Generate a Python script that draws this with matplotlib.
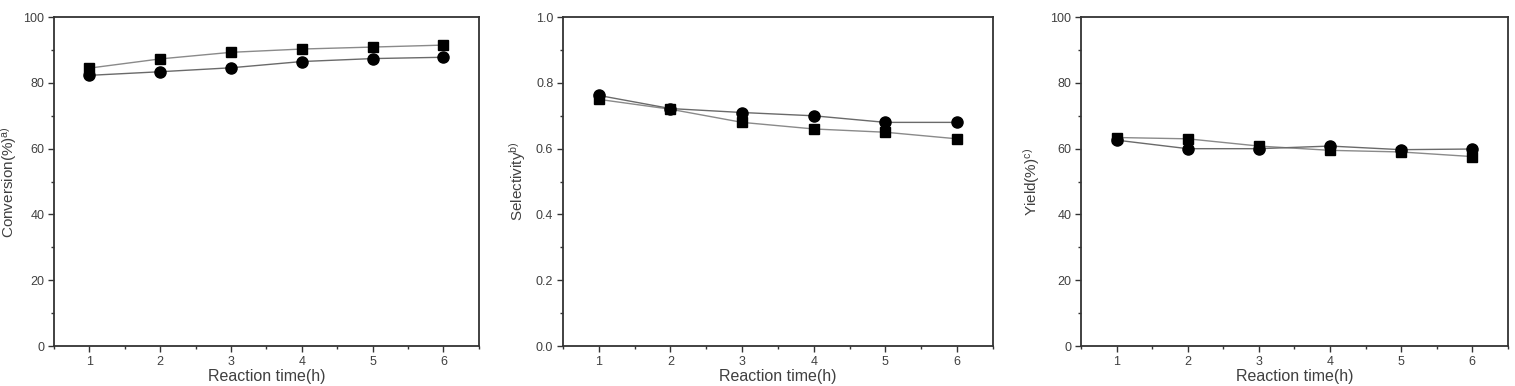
import matplotlib
matplotlib.use("Agg")
import matplotlib.pyplot as plt
from matplotlib.ticker import MultipleLocator, FormatStrFormatter

plt.rcParams["font.family"] = ["Liberation Sans", "DejaVu Sans"]
plt.rcParams["mathtext.fontset"] = "custom"
plt.rcParams["mathtext.rm"] = "Liberation Sans"
plt.rcParams["mathtext.it"] = "Liberation Sans"

# ----------------------
# DATA
# ----------------------

time_h = [1, 2, 3, 4, 5, 6]

conv_square = [84.5, 87.3, 89.3, 90.3, 90.9, 91.5]
conv_circle = [82.3, 83.4, 84.6, 86.5, 87.4, 87.8]

sel_square = [0.75, 0.72, 0.68, 0.66, 0.65, 0.63]
sel_circle = [0.762, 0.722, 0.71, 0.70, 0.68, 0.68]

yield_square = [63.4, 63.0, 60.8, 59.5, 59.0, 57.6]
yield_circle = [62.6, 60.0, 60.0, 60.8, 59.7, 59.9]

ylabels = ["Conversion(%)$^{\\mathrm{a)}}$", "Selectivity$^{\\mathrm{b)}}$", "Yield(%)$^{\\mathrm{c)}}$"]

TEXT = "#404040"
LINE = "#8a8a8a"

fig = plt.figure(figsize=(15.15, 3.86), dpi=100)

boxes = [
    [0.0356, 0.1036, 0.2805, 0.852],
    [0.3716, 0.1036, 0.2838, 0.852],
    [0.7135, 0.1036, 0.2818, 0.852],
]

panels = [
    (conv_square, conv_circle, (0, 100), 20, 10, "%d"),
    (sel_square, sel_circle, (0, 1.0), 0.2, 0.1, "%.1f"),
    (yield_square, yield_circle, (0, 100), 20, 10, "%d"),
]

for i, (box, (sq, ci, ylim, major, minor, fmt), ylab) in enumerate(zip(boxes, panels, ylabels)):
    ax = fig.add_axes(box)

    ax.plot(time_h, sq, color=LINE, lw=1.0, marker="s", ms=7,
            mfc="black", mec="black", zorder=3)
    ax.plot(time_h, ci, color="#6a6a6a", lw=1.0, marker="o", ms=8,
            mfc="black", mec="black", zorder=3)

    ax.set_xlim(0.5, 6.5)
    ax.set_ylim(*ylim)
    ax.xaxis.set_major_locator(MultipleLocator(1))
    ax.xaxis.set_minor_locator(MultipleLocator(0.5))
    ax.yaxis.set_major_locator(MultipleLocator(major))
    ax.yaxis.set_minor_locator(MultipleLocator(minor))
    ax.yaxis.set_major_formatter(FormatStrFormatter(fmt))

    ax.tick_params(which="both", direction="out", color="#333333",
                   top=False, right=False)
    ax.tick_params(which="major", length=4, width=1.0, labelsize=9,
                   labelcolor=TEXT, pad=3)
    ax.tick_params(which="minor", length=2.5, width=1.0)

    for s in ax.spines.values():
        s.set_linewidth(1.3)
        s.set_color("#333333")

    ax.set_xlabel("Reaction time(h)", fontsize=11.5, color=TEXT, labelpad=1)
    ax.set_ylabel(ylab, fontsize=11, color=TEXT, labelpad=3 if i == 0 else 6)

fig.savefig("out.png", dpi=100)
